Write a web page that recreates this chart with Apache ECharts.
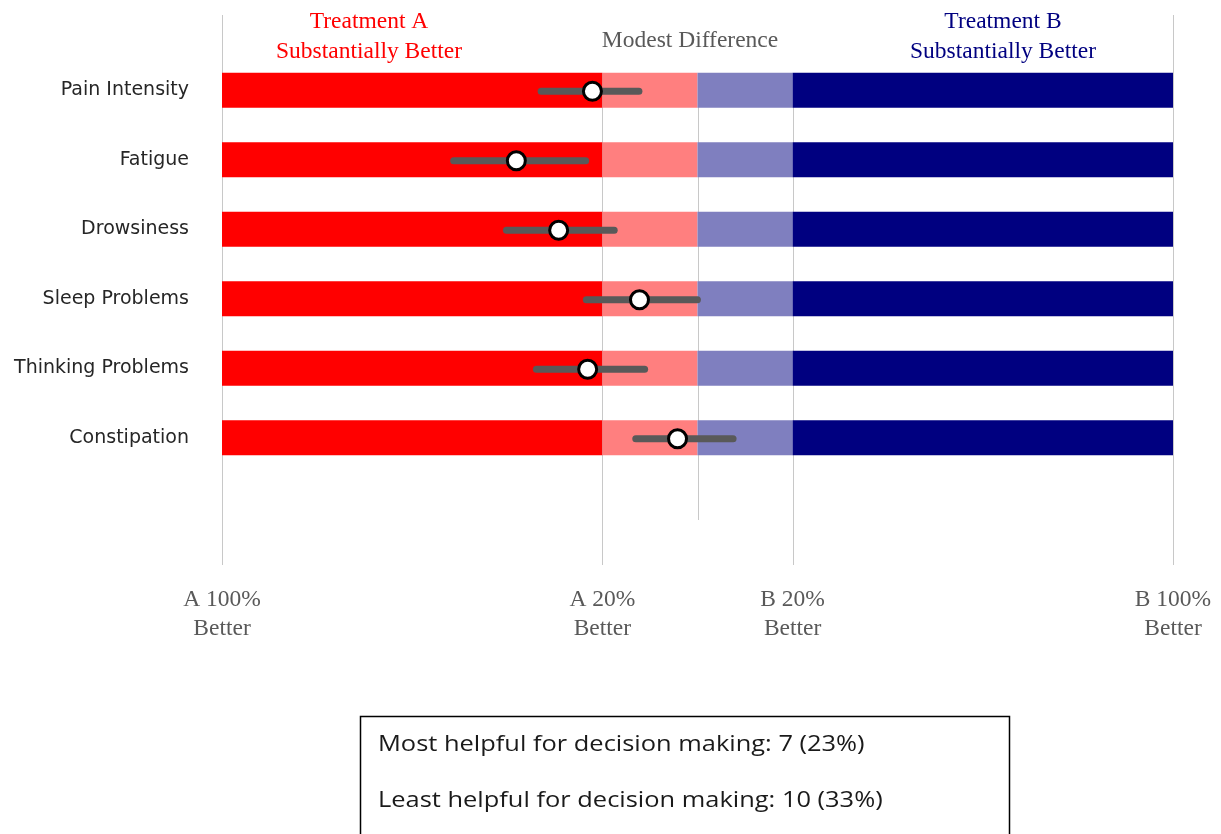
<!DOCTYPE html>
<html>
<head>
<meta charset="utf-8">
<script src="https://cdn.jsdelivr.net/npm/echarts@6/dist/echarts.min.js"></script>
<style>
html, body { margin: 0; padding: 0; background: #fff; }
#main { width: 1221px; height: 834px; }
</style>
</head>
<body>
<div id="main"></div>
<script>
// outcomes, top to bottom
const outcomes = ['Pain Intensity', 'Fatigue', 'Drowsiness', 'Sleep Problems', 'Thinking Problems', 'Constipation'];
// % better: negative = treatment A better, positive = treatment B better
const estimate = [-22.1, -38.1, -29.2, -12.2, -23.1, -4.2];
const lower = [-33.3, -51.7, -40.6, -23.8, -34.3, -13.4];
const upper = [-11.9, -23.1, -17.1, 0.4, -10.7, 7.9];

// zones: A substantially better | modest (A) | modest (B) | B substantially better
const zoneEdges = [-100, -20, 0, 20, 100];
const zoneColors = ['#ff0000', '#ff7f7f', '#7f7fbf', '#000080'];

const tickValues = [-100, -20, 20, 100];
const tickLabels = ['A 100%\nBetter', 'A 20%\nBetter', 'B 20%\nBetter', 'B 100%\nBetter'];
const outerLines = [-100, 100];
const innerLines = [-20, 20];
const centreLine = [0];

const mostHelpful = 'Most helpful for decision making: 7 (23%)';
const leastHelpful = 'Least helpful for decision making: 10 (33%)';

const serif = 'Liberation Serif';
const serifSize = 23.5;
const gridLeft = 222, gridRight = 48;

const chart = echarts.init(document.getElementById('main'));

// zone rectangles, one per row and zone
const zoneData = [];
outcomes.forEach((_, i) => {
    for (let z = 0; z < zoneColors.length; z++) {
        zoneData.push([i, zoneEdges[z], zoneEdges[z + 1], z]);
    }
});

function valueAxis(gridIndex, withLabels) {
    return {
        type: 'value', gridIndex: gridIndex, min: -100, max: 100, interval: 20,
        show: withLabels,
        axisLine: { show: false },
        axisTick: { show: false },
        splitLine: { show: false },
        axisLabel: {
            margin: 20,
            fontFamily: serif,
            fontSize: serifSize,
            lineHeight: 29,
            color: '#595959',
            formatter: v => {
                const k = tickValues.indexOf(v);
                return k < 0 ? '' : tickLabels[k];
            }
        }
    };
}

function guideSeries(gridIndex, values) {
    return {
        type: 'custom',
        xAxisIndex: gridIndex, yAxisIndex: gridIndex,
        z: 1,
        silent: true,
        data: values.map(v => [v, 0]),
        renderItem: (params, api) => {
            const cs = params.coordSys;
            const x = Math.round(api.coord([api.value(0), 0])[0]) + 0.5;
            return {
                type: 'line',
                shape: { x1: x, y1: cs.y, x2: x, y2: cs.y + cs.height },
                style: { stroke: '#c8c8c8', lineWidth: 1 }
            };
        }
    };
}

function boxText(text, y) {
    return {
        type: 'text', x: 378, y: y, scaleX: 1.2,
        style: {
            text: text, verticalAlign: 'middle',
            fontFamily: 'Open Sans', fontSize: 21.2, fill: '#1a1a1a'
        }
    };
}

const option = {
    animation: false,
    backgroundColor: '#fff',
    grid: [
        { left: gridLeft, right: gridRight, top: 55.5, height: 417 },
        { left: gridLeft, right: gridRight, top: 15, bottom: 269 },
        { left: gridLeft, right: gridRight, top: 73, bottom: 269 },
        { left: gridLeft, right: gridRight, top: 73, bottom: 314 }
    ],
    xAxis: [valueAxis(0, false), valueAxis(1, true), valueAxis(2, false), valueAxis(3, false)],
    yAxis: [
        {
            type: 'category', gridIndex: 0, data: outcomes, inverse: true,
            axisLine: { show: false },
            axisTick: { show: false },
            axisLabel: {
                margin: 33,
                fontFamily: 'DejaVu Sans',
                fontSize: 19,
                color: '#262626',
                padding: [0, 0, 6, 0]
            }
        },
        { type: 'value', gridIndex: 1, min: 0, max: 1, show: false },
        { type: 'value', gridIndex: 2, min: 0, max: 1, show: false },
        { type: 'value', gridIndex: 3, min: 0, max: 1, show: false }
    ],
    series: [
        guideSeries(1, outerLines),
        guideSeries(2, innerLines),
        guideSeries(3, centreLine),
        {
            name: 'zones',
            type: 'custom',
            xAxisIndex: 0, yAxisIndex: 0,
            z: 2,
            encode: { x: [1, 2], y: 0 },
            data: zoneData,
            renderItem: (params, api) => {
                const a = api.coord([api.value(1), api.value(0)]);
                const b = api.coord([api.value(2), api.value(0)]);
                const h = 35;
                return {
                    type: 'rect',
                    shape: { x: a[0], y: a[1] - h / 2, width: b[0] - a[0], height: h },
                    style: { fill: zoneColors[api.value(3)] }
                };
            }
        },
        {
            name: 'interval',
            type: 'custom',
            xAxisIndex: 0, yAxisIndex: 0,
            z: 3,
            encode: { x: [1, 2], y: 0 },
            data: outcomes.map((_, i) => [i, lower[i], upper[i]]),
            renderItem: (params, api) => {
                const a = api.coord([api.value(1), api.value(0)]);
                const b = api.coord([api.value(2), api.value(0)]);
                return {
                    type: 'line',
                    shape: { x1: a[0] + 2, y1: a[1] + 1, x2: b[0] - 2, y2: b[1] + 1 },
                    style: { stroke: '#595959', lineWidth: 7, lineCap: 'round' }
                };
            }
        },
        {
            name: 'estimate',
            type: 'scatter',
            xAxisIndex: 0, yAxisIndex: 0,
            z: 4,
            symbol: 'circle',
            symbolSize: 18,
            symbolOffset: [0, 1],
            itemStyle: { color: '#ffffff', borderColor: '#000000', borderWidth: 3, opacity: 1 },
            data: estimate.map((v, i) => [v, i])
        }
    ],
    graphic: [
        {
            type: 'text', x: 369, y: 37,
            style: {
                text: 'Treatment A\nSubstantially Better', align: 'center', verticalAlign: 'middle',
                fontFamily: serif, fontSize: serifSize, lineHeight: 30, fill: '#ff0000'
            }
        },
        {
            type: 'text', x: 690, y: 41,
            style: {
                text: 'Modest Difference', align: 'center', verticalAlign: 'middle',
                fontFamily: serif, fontSize: serifSize, fill: '#595959'
            }
        },
        {
            type: 'text', x: 1003, y: 37,
            style: {
                text: 'Treatment B\nSubstantially Better', align: 'center', verticalAlign: 'middle',
                fontFamily: serif, fontSize: serifSize, lineHeight: 30, fill: '#000080'
            }
        },
        {
            type: 'rect',
            shape: { x: 360.5, y: 716.5, width: 649, height: 140 },
            style: { fill: 'none', stroke: '#000', lineWidth: 1.5 }
        },
        boxText(mostHelpful, 745),
        boxText(leastHelpful, 801)
    ]
};

chart.setOption(option);
</script>
</body>
</html>
